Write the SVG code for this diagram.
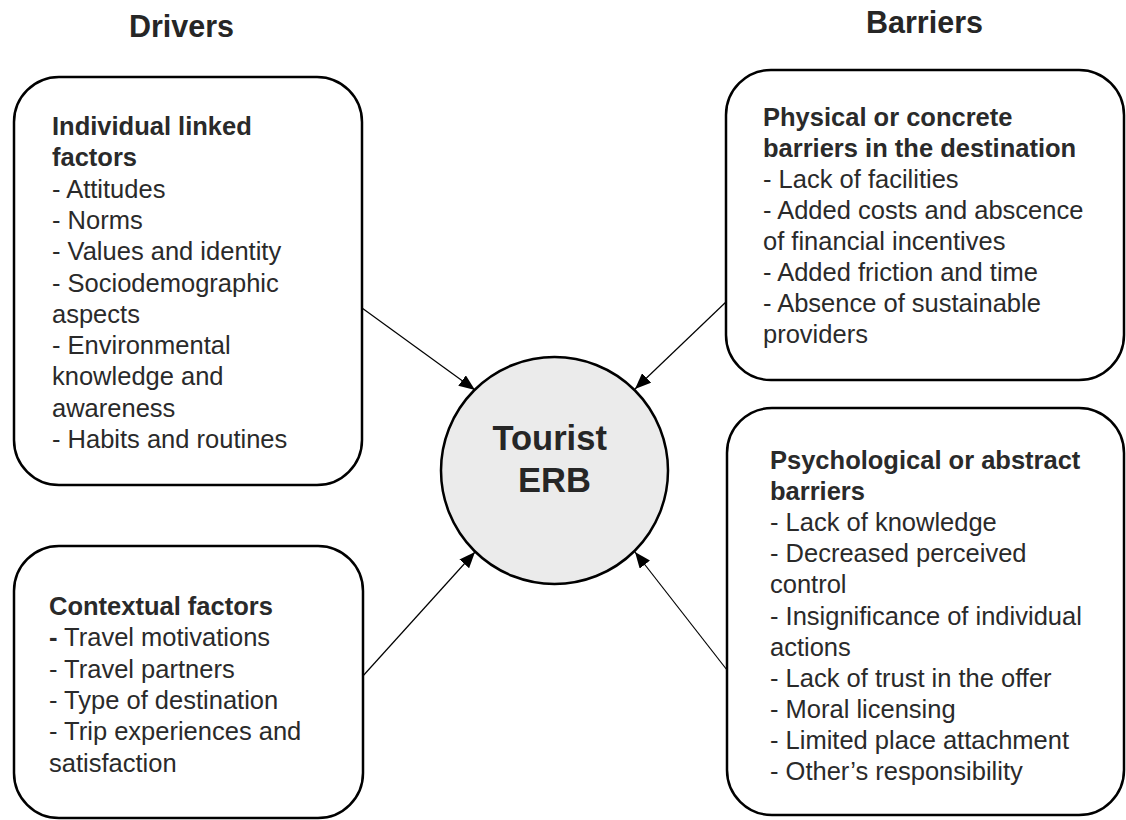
<svg xmlns="http://www.w3.org/2000/svg" width="1126" height="820" viewBox="0 0 1126 820">
  <style>
    .box { fill: #ffffff; stroke: #000000; stroke-width: 2.5; }
    .hub { fill: #ebebeb; stroke: #000000; stroke-width: 2.5; }
    .txt { font-family: "Liberation Sans", Arial, sans-serif; font-size: 25.5px; fill: #2a2a2a; }
    .b { font-weight: bold; }
    .title { font-family: "Liberation Sans", Arial, sans-serif; font-size: 30.5px; font-weight: bold; fill: #262626; text-anchor: middle; }
    .hubtxt { font-family: "Liberation Sans", Arial, sans-serif; font-size: 34.5px; font-weight: bold; fill: #262626; text-anchor: middle; }
    .link { stroke: #000000; stroke-width: 1.2; fill: none; marker-end: url(#arrow); }
  </style>
  <defs>
    <marker id="arrow" markerUnits="userSpaceOnUse" markerWidth="16" markerHeight="13" refX="16" refY="6.5" orient="auto">
      <path d="M0,0 L16,6.5 L0,13 Z" fill="#000000"/>
    </marker>
  </defs>

  <rect width="1126" height="820" fill="#ffffff"/>

  <!-- column headings -->
  <text class="title" x="181.5" y="37">Drivers</text>
  <text class="title" x="924.5" y="32.5">Barriers</text>

  <!-- connectors -->
  <g id="connectors">
    <line class="link" x1="362" y1="308" x2="475" y2="390"/>
    <line class="link" x1="727" y1="301" x2="635" y2="389"/>
    <line class="link" x1="362" y1="677" x2="475" y2="552"/>
    <line class="link" x1="727" y1="670" x2="635" y2="552"/>
  </g>

  <!-- individual linked factors -->
  <g id="individual-factors">
    <rect class="box" x="14" y="77" width="348" height="408" rx="45" ry="45"/>
    <text class="txt">
      <tspan class="b" x="52" y="135">Individual linked</tspan>
      <tspan class="b" x="52" y="166.3">factors</tspan>
      <tspan x="52" y="197.6">- Attitudes</tspan>
      <tspan x="52" y="228.9">- Norms</tspan>
      <tspan x="52" y="260.2">- Values and identity</tspan>
      <tspan x="52" y="291.5">- Sociodemographic</tspan>
      <tspan x="52" y="322.8">aspects</tspan>
      <tspan x="52" y="354.1">- Environmental</tspan>
      <tspan x="52" y="385.4">knowledge and</tspan>
      <tspan x="52" y="416.7">awareness</tspan>
      <tspan x="52" y="448">- Habits and routines</tspan>
    </text>
  </g>

  <!-- contextual factors -->
  <g id="contextual-factors">
    <rect class="box" x="14" y="546" width="349" height="272" rx="45" ry="45"/>
    <text class="txt">
      <tspan class="b" x="49" y="615">Contextual factors</tspan>
      <tspan x="49" y="646.3"><tspan class="b">-</tspan> Travel motivations</tspan>
      <tspan x="49" y="677.6">- Travel partners</tspan>
      <tspan x="49" y="708.9">- Type of destination</tspan>
      <tspan x="49" y="740.2">- Trip experiences and</tspan>
      <tspan x="49" y="771.5">satisfaction</tspan>
    </text>
  </g>

  <!-- physical barriers -->
  <g id="physical-barriers">
    <rect class="box" x="726" y="70" width="398" height="310" rx="45" ry="45"/>
    <text class="txt">
      <tspan class="b" x="763" y="125.5">Physical or concrete</tspan>
      <tspan class="b" x="763" y="156.6">barriers in the destination</tspan>
      <tspan x="763" y="187.7">- Lack of facilities</tspan>
      <tspan x="763" y="218.8">- Added costs and abscence</tspan>
      <tspan x="763" y="249.9">of financial incentives</tspan>
      <tspan x="763" y="281">- Added friction and time</tspan>
      <tspan x="763" y="312.1">- Absence of sustainable</tspan>
      <tspan x="763" y="343.2">providers</tspan>
    </text>
  </g>

  <!-- psychological barriers -->
  <g id="psychological-barriers">
    <rect class="box" x="727" y="408" width="397" height="407" rx="45" ry="45"/>
    <text class="txt">
      <tspan class="b" x="770" y="469">Psychological or abstract</tspan>
      <tspan class="b" x="770" y="500.1">barriers</tspan>
      <tspan x="770" y="531.2">- Lack of knowledge</tspan>
      <tspan x="770" y="562.3">- Decreased perceived</tspan>
      <tspan x="770" y="593.4">control</tspan>
      <tspan x="770" y="624.5">- Insignificance of individual</tspan>
      <tspan x="770" y="655.6">actions</tspan>
      <tspan x="770" y="686.7">- Lack of trust in the offer</tspan>
      <tspan x="770" y="717.8">- Moral licensing</tspan>
      <tspan x="770" y="748.9">- Limited place attachment</tspan>
      <tspan x="770" y="780">- Other’s responsibility</tspan>
    </text>
  </g>

  <!-- central behaviour node -->
  <g id="tourist-erb">
    <circle class="hub" cx="554.5" cy="470.5" r="113.5"/>
    <text class="hubtxt">
      <tspan x="554.5" y="450">Tourist</tspan>
      <tspan x="554.5" y="492">ERB</tspan>
    </text>
  </g>
</svg>
